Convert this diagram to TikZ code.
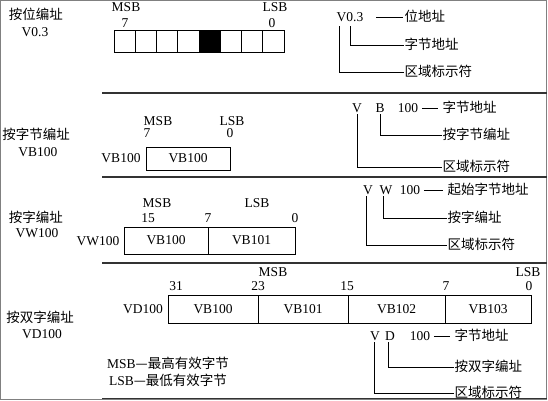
\documentclass[tikz,border=0pt]{standalone}
\usepackage{fontspec}
\setmainfont{Liberation Serif}
\newfontfamily\cjk{Noto Sans CJK SC}
\usetikzlibrary{positioning}
\usetikzlibrary{calc}

\begin{document}
\begin{tikzpicture}[x=1pt,y=-1pt,
  txt/.style={inner sep=0.5pt,text height=9.5pt,text depth=1.5pt,font=\fontsize{13.5}{15}\selectfont},
  zh/.style={txt,font=\fontsize{13.5}{15}\selectfont\cjk},
  bit/.style={draw,line width=0.8pt,minimum width=21.25pt,minimum height=21.5pt,inner sep=0pt},
  cell/.style={txt,draw,line width=0.8pt,inner sep=0pt},
  link/.style={line width=0.8pt},
  sep/.style={black!80,line width=1.2pt}]
\useasboundingbox (0,0) rectangle (548,400);
\draw [gray,line width=1pt] (0.5,0.5) rectangle (546.5,399.5);
\draw [sep] (102,93) -- (546.5,93);
\draw [sep] (102,177) -- (546.5,177);
\draw [sep] (102,263) -- (546.5,263);
\draw [sep,line width=1.6pt] (102,398.5) -- (546.5,398.5);

% bit addressing
\path
(36,15) node [zh](t1) {按位编址}
(35,32) node [txt](t1a) {V0.3}
(126,7) node [txt](m1) {MSB}
(125,23) node [txt](m1n) {7}
(275,7) node [txt](l1) {LSB}
(272,23) node [txt](l1n) {0};
\foreach \i in {0,...,7}
  \node [bit](b\i) at ({124.6+21.25*\i},41.25) {};
\fill [black] (b4.south west) rectangle (b4.north east);
\path
(350,17) node [txt](av) {V0.3}
(404,17) node [zh,anchor=west](al1) {位地址}
(404,45) node [zh,anchor=west](al2) {字节地址}
(404,72) node [zh,anchor=west](al3) {区域标示符};
\draw [link,shorten <=12pt,shorten >=1pt](av.east) -- (al1.west);
\draw [link]([xshift=3pt,yshift=-3pt]av.south west) |- (al3.west);
\draw [link]([xshift=14.5pt,yshift=-3pt]av.south west) |- (al2.west);

% byte addressing
\path
(36,135) node [zh](t2) {按字节编址}
(38,152) node [txt](t2a) {VB100}
(158,121) node [txt](m2) {MSB}
(147,133) node [txt](m2n) {7}
(232,121) node [txt](l2) {LSB}
(230,133) node [txt](l2n) {0}
(121,158.5) node [txt](v2) {VB100}
(188,158.5) node [cell,minimum width=84pt,minimum height=23pt](c2) {VB100};
\path
(357,108) node [txt](bv) {V}
(380,108) node [txt](bb) {B}
(408,108) node [txt](bn) {100}
(442,108) node [zh,anchor=west](bl1) {字节地址}
(442,135) node [zh,anchor=west](bl2) {按字节编址}
(442,167) node [zh,anchor=west](bl3) {区域标示符};
\draw [link,shorten <=3pt,shorten >=4pt](bn.east) -- (bl1.west);
\draw [link](bb.south) |- (bl2.west);
\draw [link](bv.south) |- (bl3.west);

% word addressing
\path
(36,218) node [zh](t3) {按字编址}
(37,233) node [txt](t3a) {VW100}
(157,203) node [txt](m3) {MSB}
(257,203) node [txt](l3) {LSB}
(148,218) node [txt](n15) {15}
(208,218) node [txt](n7) {7}
(295,218) node [txt](n0) {0}
(98,241) node [txt](v3) {VW100}
(166,240.5) node [cell,minimum width=84pt,minimum height=27pt](w0) {VB100}
(251.5,240.5) node [cell,minimum width=87pt,minimum height=27pt](w1) {VB101};
\path
(368,190) node [txt](cv) {V}
(386,190) node [txt](cw) {W}
(410,190) node [txt](cn) {100}
(447,190) node [zh,anchor=west](cl1) {起始字节地址}
(447,218) node [zh,anchor=west](cl2) {按字编址}
(447,245) node [zh,anchor=west](cl3) {区域标示符};
\draw [link,shorten <=3pt,shorten >=4pt](cn.east) -- (cl1.west);
\draw [link]([xshift=-3pt]cw.south) |- (cl2.west);
\draw [link]([xshift=-2pt]cv.south) |- (cl3.west);

% double word addressing
\path
(40,318) node [zh](t4) {按双字编址}
(42,334) node [txt](t4a) {VD100}
(273,272) node [txt](m4) {MSB}
(528,272) node [txt](l4) {LSB}
(176,286) node [txt](d31) {31}
(258,286) node [txt](d23) {23}
(347,286) node [txt](d15) {15}
(446,286) node [txt](d7) {7}
(529,286) node [txt](d0n) {0}
(143,309) node [txt](v4) {VD100}
(213,309) node [cell,minimum width=90pt,minimum height=28pt](d0) {VB100}
(303,309) node [cell,minimum width=90pt,minimum height=28pt](d1) {VB101}
(396.5,309) node [cell,minimum width=97pt,minimum height=28pt](d2) {VB102}
(488,309) node [cell,minimum width=86pt,minimum height=28pt](d3) {VB103};
\path
(375,336) node [txt](dv) {V}
(390,336) node [txt](dd) {D}
(420,336) node [txt](dn) {100}
(454,336) node [zh,anchor=west](dl1) {字节地址}
(454,367) node [zh,anchor=west](dl2) {按双字编址}
(454,393) node [zh,anchor=west](dl3) {区域标示符};
\draw [link,shorten <=3pt,shorten >=4pt](dn.east) -- (dl1.west);
\draw [link]([xshift=-2pt]dd.south) |- (dl2.west);
\draw [link]([xshift=-1pt]dv.south) |- (dl3.west);

\path
(168,364) node [txt](k1) {MSB{\cjk —最高有效字节}}
(168,381) node [txt](k2) {LSB{\cjk —最低有效字节}};

\end{tikzpicture}
\end{document}
